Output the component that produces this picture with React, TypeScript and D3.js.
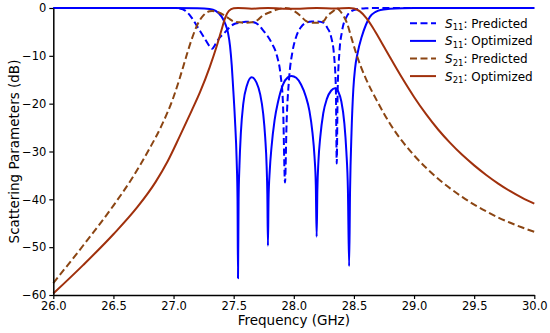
import React, { useRef, useEffect } from "react";
import * as d3 from "d3";

type Pt = [number, number];

// tick values
const xTicks = [26.0, 26.5, 27.0, 27.5, 28.0, 28.5, 29.0, 29.5, 30.0];
const yTicks = [-60, -50, -40, -30, -20, -10, 0];

// [frequency GHz, dB]
const s11Predicted: Pt[] = [
  [26.0, 0], [27.0, 0], [27.05, -0.1], [27.1, -0.6], [27.15, -2], [27.2, -4],
  [27.25, -6], [27.3, -8], [27.32, -8.5], [27.35, -7.5], [27.38, -6.3],
  [27.42, -5.3], [27.46, -4.2], [27.5, -3.4], [27.55, -3.1], [27.6, -2.9],
  [27.65, -2.9], [27.7, -3.4], [27.74, -4.5], [27.78, -5.8], [27.82, -7.5],
  [27.86, -10], [27.89, -14], [27.91, -20], [27.927, -36.5], [27.94, -24],
  [27.96, -15], [27.99, -9], [28.02, -6], [28.06, -4], [28.1, -3.1],
  [28.15, -2.8], [28.2, -2.8], [28.25, -3.1], [28.28, -4.2], [28.31, -6],
  [28.335, -10], [28.35, -17], [28.357, -32.5], [28.365, -17], [28.38, -9],
  [28.4, -5], [28.44, -1.8], [28.5, -0.4], [28.6, -0.05], [28.7, 0], [30.0, 0],
];

const s11Optimized: Pt[] = [
  [26.0, 0], [27.0, 0], [27.2, -0.05], [27.3, -0.2], [27.35, -0.6], [27.4, -1.8],
  [27.43, -3.3], [27.453, -5.2], [27.47, -8], [27.484, -12], [27.494, -16],
  [27.51, -23], [27.525, -32], [27.532, -40], [27.536, -56.5], [27.541, -40],
  [27.548, -33], [27.56, -26], [27.58, -20], [27.61, -16.2], [27.65, -14.5],
  [27.69, -15.6], [27.72, -18], [27.745, -22], [27.762, -27], [27.774, -33],
  [27.78, -39], [27.785, -49.7], [27.79, -40], [27.8, -34], [27.815, -29],
  [27.84, -23.5], [27.87, -19.5], [27.91, -16], [27.95, -14.5], [27.98, -14.2],
  [28.02, -14.6], [28.06, -16], [28.1, -18.5], [28.13, -21.5], [28.155, -26],
  [28.172, -31], [28.183, -37], [28.19, -47.8], [28.196, -38], [28.205, -32],
  [28.22, -27], [28.245, -22], [28.275, -19], [28.31, -17.3], [28.343, -16.8],
  [28.37, -17.5], [28.395, -19.5], [28.42, -24], [28.437, -30], [28.45, -38],
  [28.46, -54], [28.468, -38], [28.48, -26], [28.495, -17], [28.51, -12.5],
  [28.53, -9.5], [28.565, -6], [28.6, -3.5], [28.634, -1.8], [28.68, -0.8],
  [28.72, -0.4], [28.8, -0.15], [28.9, -0.03], [29.0, 0], [30.0, 0],
];

const s21Predicted: Pt[] = [
  [26.0, -57.5], [26.25, -49.6], [26.5, -41.3], [26.65, -35.8], [26.8, -29.4],
  [26.9, -24.6], [27.0, -18.6], [27.05, -14.8], [27.1, -10.6], [27.15, -6.6],
  [27.2, -3.4], [27.25, -1.5], [27.3, -0.7], [27.32, -0.65], [27.36, -0.8],
  [27.42, -1.5], [27.46, -2.2], [27.5, -2.8], [27.55, -3.0], [27.6, -3.1],
  [27.65, -3.0], [27.7, -2.5], [27.74, -1.6], [27.78, -1.1], [27.82, -0.7],
  [27.86, -0.3], [27.9, -0.1], [27.927, 0], [27.96, -0.1], [28.0, -0.6],
  [28.05, -1.5], [28.1, -2.7], [28.15, -3.1], [28.2, -3.1], [28.25, -2.7],
  [28.28, -1.6], [28.31, -1.0], [28.34, -0.4], [28.357, 0], [28.38, -0.5],
  [28.41, -1.5], [28.44, -3], [28.48, -6.3], [28.52, -9.6], [28.56, -12.4],
  [28.6, -14.8], [28.7, -19.8], [28.8, -24.2], [28.9, -27.8], [29.0, -30.8],
  [29.1, -33.4], [29.2, -35.7], [29.3, -37.7], [29.4, -39.5], [29.5, -41.1],
  [29.6, -42.5], [29.7, -43.8], [29.8, -44.9], [29.9, -45.9], [30.0, -46.8],
];

const s21Optimized: Pt[] = [
  [26.0, -59.7], [26.25, -53.7], [26.5, -47.3], [26.7, -41.6], [26.85, -36.4],
  [26.95, -32.1], [27.05, -26.9], [27.15, -21.5], [27.22, -17.6], [27.3, -12.4],
  [27.36, -7.9], [27.4, -4.5], [27.43, -2.0], [27.46, -0.6], [27.5, -0.05],
  [27.536, 0], [27.65, -0.15], [27.785, 0], [27.98, -0.17], [28.19, 0],
  [28.343, -0.1], [28.46, 0], [28.5, -0.1], [28.55, -0.7], [28.6, -2.0],
  [28.65, -3.8], [28.7, -5.9], [28.75, -8.1], [28.8, -10.3], [28.9, -14.6],
  [29.0, -18.6], [29.1, -22.2], [29.2, -25.4], [29.3, -28.2], [29.4, -30.7],
  [29.5, -32.9], [29.6, -34.9], [29.7, -36.7], [29.8, -38.3], [29.9, -39.7],
  [30.0, -40.9],
];

const seriesSubs = ["11", "11", "21", "21"];
const seriesNames = ["Predicted", "Optimized", "Predicted", "Optimized"];

const FONT = "DejaVu Sans, sans-serif";

function drawChart(svgEl: SVGSVGElement, totalWidth: number, totalHeight: number) {
  const margin = { top: 8, right: 15.7, bottom: 38, left: 53.3 };
  const W = totalWidth - margin.left - margin.right;
  const H = totalHeight - margin.top - margin.bottom;

  const svg = d3.select(svgEl);
  svg.selectAll("*").remove();
  const content = svg
    .append("g")
    .attr("transform", `translate(${margin.left}, ${margin.top})`);

  const x = d3.scaleLinear().domain([26, 30]).range([0, W]);
  const y = d3.scaleLinear().domain([-60, 0]).range([H, 0]);

  const line = d3
    .line<Pt>()
    .x((d) => x(d[0]))
    .y((d) => y(d[1]))
    .curve(d3.curveMonotoneX);

  const series = [
    { data: s11Predicted, color: "#0000ff", dash: "7,3.5" },
    { data: s11Optimized, color: "#0000ff", dash: null },
    { data: s21Predicted, color: "#8b4513", dash: "7,3.5" },
    { data: s21Optimized, color: "#a0300c", dash: null },
  ];

  series.forEach((s) => {
    content
      .append("path")
      .datum(s.data)
      .attr("d", line)
      .attr("fill", "none")
      .attr("stroke", s.color)
      .attr("stroke-width", 2)
      .attr("stroke-dasharray", s.dash)
      .attr("stroke-linejoin", "round");
  });

  // axes
  const xAxis = content
    .append("g")
    .attr("transform", `translate(0, ${H})`)
    .call(
      d3
        .axisBottom(x)
        .tickValues(xTicks)
        .tickFormat(d3.format(".1f"))
        .tickSize(4)
        .tickSizeOuter(0)
        .tickPadding(3)
    );
  const yAxis = content.append("g").call(
    d3
      .axisLeft(y)
      .tickValues(yTicks)
      .tickFormat(d3.format("d"))
      .tickSize(4)
      .tickSizeOuter(0)
      .tickPadding(3)
  );
  [xAxis, yAxis].forEach((a) => {
    a.select(".domain").attr("stroke", "#000").attr("stroke-width", 1.5);
    a.selectAll(".tick line").attr("stroke", "#000").attr("stroke-width", 1.2);
    a.selectAll(".tick text")
      .attr("font-family", FONT)
      .attr("font-size", 11.5)
      .attr("fill", "#000");
  });

  // axis labels
  content
    .append("text")
    .attr("x", W / 2)
    .attr("y", H + 30)
    .attr("text-anchor", "middle")
    .attr("font-family", FONT)
    .attr("font-size", 13.5)
    .text("Frequency (GHz)");
  content
    .append("text")
    .attr("transform", `translate(${18.5 - margin.left}, ${H / 2}) rotate(-90)`)
    .attr("text-anchor", "middle")
    .attr("font-family", FONT)
    .attr("font-size", 13.5)
    .text("Scattering Parameters (dB)");

  // legend
  const legend = svg.append("g").attr("transform", "translate(410, 23.3)");
  series.forEach((s, i) => {
    const row = legend.append("g").attr("transform", `translate(0, ${i * 17.6})`);
    row
      .append("line")
      .attr("x1", 0)
      .attr("x2", 26)
      .attr("y1", 0)
      .attr("y2", 0)
      .attr("stroke", s.color)
      .attr("stroke-width", 2)
      .attr("stroke-dasharray", s.dash);
    const t = row
      .append("text")
      .attr("x", 35)
      .attr("y", 4.5)
      .attr("font-family", FONT)
      .attr("font-size", 12);
    t.append("tspan").attr("font-style", "italic").text("S");
    t.append("tspan").attr("font-size", 8.5).attr("dy", 2.5).text(seriesSubs[i]);
    t.append("tspan").attr("dy", -2.5).text(": " + seriesNames[i]);
  });
}

const App: React.FunctionComponent = function () {
  const svgRef = useRef<SVGSVGElement>(null);
  const width = 550;
  const height = 333;

  useEffect(() => {
    if (svgRef.current == null) {
      return;
    }
    drawChart(svgRef.current, width, height);
  }, []);

  return (
    <svg
      ref={svgRef}
      width={width}
      height={height}
      style={{ position: "absolute", left: 0, top: 0, background: "#fff" }}
    />
  );
};

export default App;
